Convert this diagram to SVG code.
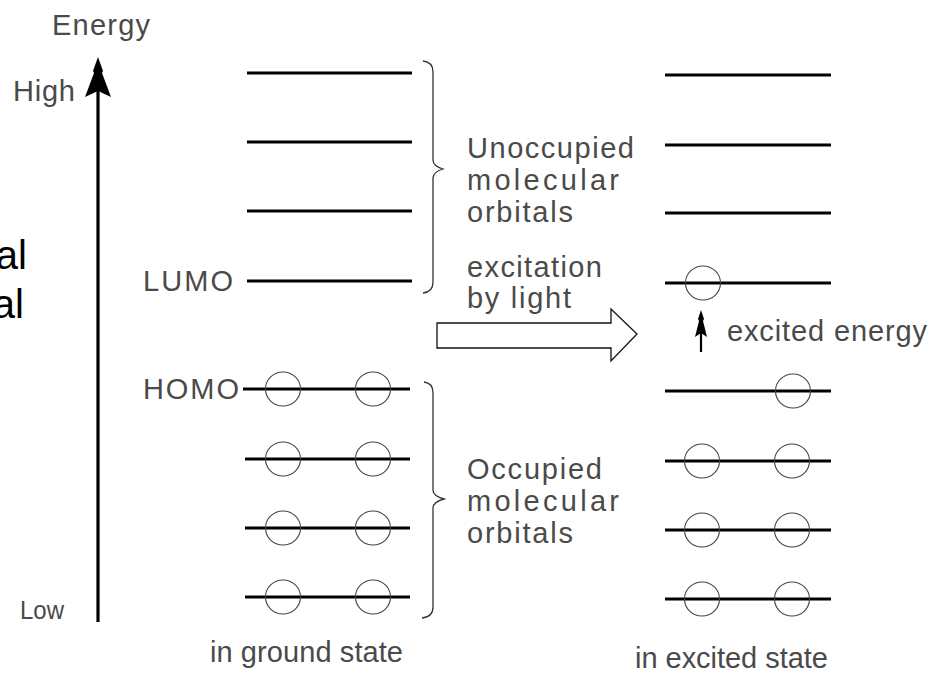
<svg xmlns="http://www.w3.org/2000/svg" width="936" height="676" viewBox="0 0 936 676">
  <defs>
    <style>
      .lvl { stroke: #000; stroke-width: 3; }
      .e { fill: none; stroke: #444; stroke-width: 1.1; }
      .lbl { font-family: "Liberation Sans", Arial, sans-serif; font-size: 29px; fill: #4a4a4a; }
      .big { font-family: "Liberation Sans", Arial, sans-serif; font-size: 40px; fill: #000; }
      .brace { fill: none; stroke: #333; stroke-width: 1.3; }
    </style>
  </defs>
  <rect width="936" height="676" fill="#fff"/>

  <!-- clipped caption fragments at the left edge -->
  <text class="big" x="27" y="269" text-anchor="end">al</text>
  <text class="big" x="24" y="318" text-anchor="end">al</text>

  <!-- energy axis -->
  <g id="axis">
    <text class="lbl" x="52" y="35" textLength="98" lengthAdjust="spacing">Energy</text>
    <text class="lbl" x="13" y="101" textLength="62" lengthAdjust="spacing">High</text>
    <text class="lbl" x="20" y="619" style="font-size:26px" textLength="44" lengthAdjust="spacingAndGlyphs">Low</text>
    <line x1="98" y1="90" x2="98" y2="622" stroke="#000" stroke-width="3.2"/>
    <polygon points="98,57 103,71 102,73 111,97 98,91 85,97 94,73 93,71" fill="#000"/>
  </g>

  <!-- ground state -->
  <g id="ground">
    <line class="lvl" x1="247" y1="73" x2="412" y2="73"/>
    <line class="lvl" x1="247" y1="142" x2="412" y2="142"/>
    <line class="lvl" x1="247" y1="211" x2="412" y2="211"/>
    <line class="lvl" x1="247" y1="281" x2="412" y2="281"/>
    <line class="lvl" x1="243" y1="389" x2="410" y2="389"/>
    <line class="lvl" x1="245" y1="459" x2="410" y2="459"/>
    <line class="lvl" x1="245" y1="528" x2="410" y2="528"/>
    <line class="lvl" x1="245" y1="597" x2="410" y2="597"/>
    <ellipse class="e" cx="283" cy="389" rx="17.5" ry="17"/>
    <ellipse class="e" cx="373" cy="389" rx="17.5" ry="17"/>
    <ellipse class="e" cx="283" cy="459" rx="17.5" ry="17"/>
    <ellipse class="e" cx="373" cy="459" rx="17.5" ry="17"/>
    <ellipse class="e" cx="283" cy="528" rx="17.5" ry="17"/>
    <ellipse class="e" cx="373" cy="528" rx="17.5" ry="17"/>
    <ellipse class="e" cx="283" cy="597" rx="17.5" ry="17"/>
    <ellipse class="e" cx="373" cy="597" rx="17.5" ry="17"/>
    <text class="lbl" x="143" y="291" textLength="90" lengthAdjust="spacing">LUMO</text>
    <text class="lbl" x="143" y="399" textLength="96" lengthAdjust="spacing">HOMO</text>
    <text class="lbl" x="210" y="662" textLength="193" lengthAdjust="spacing">in ground state</text>
  </g>

  <!-- braces and their labels -->
  <g id="unoccupied">
    <path class="brace" d="M423,61 Q433,62 433,72 L433,160 Q433,166 443,169 Q433,172 433,178 L433,282 Q433,292 423,293"/>
    <text class="lbl" x="467" y="158" textLength="167" lengthAdjust="spacing">Unoccupied</text>
    <text class="lbl" x="467" y="190" textLength="152" lengthAdjust="spacing">molecular</text>
    <text class="lbl" x="467" y="222" textLength="106" lengthAdjust="spacing">orbitals</text>
  </g>
  <g id="occupied">
    <path class="brace" d="M424,382 Q433,383 433,393 L433,490 Q433,496 444,499 Q433,502 433,508 L433,607 Q433,617 422,618"/>
    <text class="lbl" x="467" y="479" textLength="135" lengthAdjust="spacing">Occupied</text>
    <text class="lbl" x="467" y="511" textLength="152" lengthAdjust="spacing">molecular</text>
    <text class="lbl" x="467" y="543" textLength="106" lengthAdjust="spacing">orbitals</text>
  </g>

  <!-- excitation arrow -->
  <g id="excitation">
    <text class="lbl" x="467" y="277" textLength="135" lengthAdjust="spacing">excitation</text>
    <text class="lbl" x="467" y="308" textLength="104" lengthAdjust="spacing">by light</text>
    <polygon points="437,323 611,323 611,309 637,334 611,361 611,348 437,348" fill="#fff" stroke="#111" stroke-width="1.3"/>
  </g>

  <!-- excited state -->
  <g id="excited">
    <line class="lvl" x1="665" y1="75" x2="831" y2="75"/>
    <line class="lvl" x1="665" y1="145" x2="831" y2="145"/>
    <line class="lvl" x1="665" y1="213" x2="831" y2="213"/>
    <line class="lvl" x1="665" y1="283" x2="831" y2="283"/>
    <line class="lvl" x1="665" y1="391" x2="831" y2="391"/>
    <line class="lvl" x1="665" y1="461" x2="831" y2="461"/>
    <line class="lvl" x1="665" y1="530" x2="831" y2="530"/>
    <line class="lvl" x1="665" y1="599" x2="831" y2="599"/>
    <ellipse class="e" cx="703" cy="283" rx="17.5" ry="17"/>
    <ellipse class="e" cx="793" cy="391" rx="17.5" ry="17"/>
    <ellipse class="e" cx="702" cy="461" rx="17.5" ry="17"/>
    <ellipse class="e" cx="792" cy="461" rx="17.5" ry="17"/>
    <ellipse class="e" cx="702" cy="530" rx="17.5" ry="17"/>
    <ellipse class="e" cx="792" cy="530" rx="17.5" ry="17"/>
    <ellipse class="e" cx="702" cy="599" rx="17.5" ry="17"/>
    <ellipse class="e" cx="792" cy="599" rx="17.5" ry="17"/>
    <line x1="701" y1="330" x2="701" y2="352" stroke="#000" stroke-width="2.2"/>
    <polygon points="701,310 704,319 703,321 707,337 701,333 695,337 699,321 698,319" fill="#000"/>
    <text class="lbl" x="727" y="341" textLength="200" lengthAdjust="spacing">excited energy</text>
    <text class="lbl" x="635" y="668" textLength="193" lengthAdjust="spacing">in excited state</text>
  </g>
</svg>
